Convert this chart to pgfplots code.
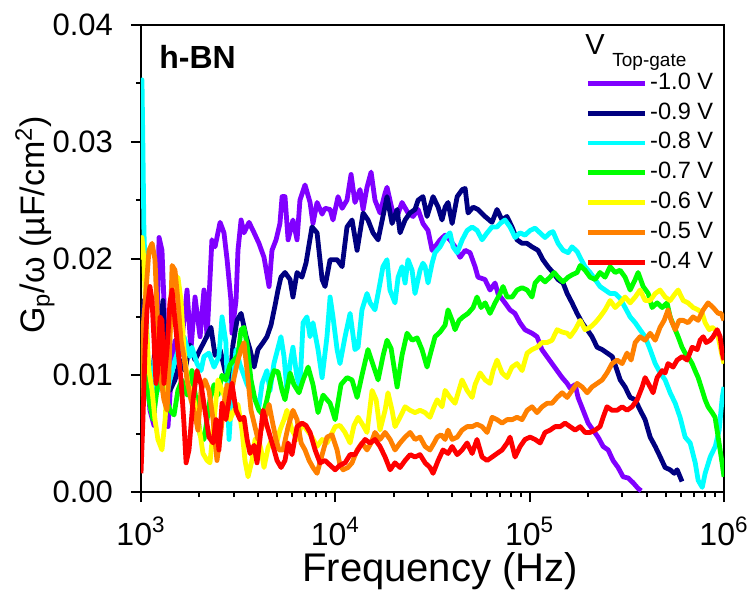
\documentclass[border=0pt]{standalone}
\usepackage{fontspec}
\setmainfont{Liberation Sans}
\usepackage{pgfplots}
\pgfplotsset{compat=1.18}
\definecolor{cPurple}{HTML}{8000FF}
\definecolor{cNavy}{HTML}{000080}
\definecolor{cCyan}{HTML}{00FFFF}
\definecolor{cGreen}{HTML}{00FF00}
\definecolor{cYellow}{HTML}{FFFF00}
\definecolor{cOrange}{HTML}{FF8000}
\definecolor{cRed}{HTML}{FF0000}
\begin{document}
\begin{tikzpicture}
\begin{axis}[
  at={(0,0)}, anchor=south west,
  scale only axis, width=291.5pt, height=233.5pt,
  xmin=3, xmax=6, ymin=0, ymax=40,
  xtick={3,4,5,6},
  xticklabels={10\textsuperscript{3},10\textsuperscript{4},10\textsuperscript{5},10\textsuperscript{6}},
  minor xtick={3.301,3.477,3.602,3.699,3.778,3.845,3.903,3.954,4.301,4.477,4.602,4.699,4.778,4.845,4.903,4.954,5.301,5.477,5.602,5.699,5.778,5.845,5.903,5.954},
  ytick={0,10,20,30,40},
  yticklabels={0.00,0.01,0.02,0.03,0.04},
  minor ytick={5,15,25,35},
  tick pos=left, tick align=outside,
  major tick length=5pt, minor tick length=2.5pt,
  every tick/.style={black, line width=1pt},
  axis line style={line width=1pt},
  xticklabel style={font=\fontsize{16}{18}\selectfont, yshift=-4pt},
  yticklabel style={font=\fontsize{15.5}{17}\selectfont, xshift=-5.5pt},
  xlabel={Frequency (Hz)},
  ylabel={G\textsubscript{p}/ω (µF/cm\textsuperscript{2})},
  xlabel style={font=\fontsize{20}{22}\selectfont, at={(axis description cs:0.513,-0.1906)}, anchor=base},
  ylabel style={font=\fontsize{17}{20}\selectfont, at={(axis description cs:-0.182,0.572)}, anchor=center, rotate=0},
  legend style={at={(rel axis cs:0.7616,0.8994)}, anchor=north west, draw=none, fill=none,
    inner sep=0pt, row sep=3.9pt, column sep=1pt,
    font=\fontsize{11.8}{13}\selectfont,
    nodes={inner ysep=0pt, inner xsep=0.5pt, text height=8.5pt, text depth=2.5pt}},
  legend cell align=left,
  legend image code/.code={\draw[#1, line width=2.4pt] (0pt,0pt) -- (28.5pt,0pt);},
  every axis plot/.append style={line width=2.4pt, line join=round},
  clip mode=individual,
]
\addplot[cPurple] coordinates {(3.000,8.7)(3.026,11.3)(3.046,7.0)(3.067,5.7)(3.082,13.9)(3.093,21.8)(3.108,20.7)(3.118,16.4)(3.129,7.9)(3.139,5.6)(3.154,9.6)(3.175,13.0)(3.201,11.7)(3.221,14.7)(3.237,17.3)(3.257,12.2)(3.278,16.7)(3.304,13.3)(3.324,17.3)(3.340,13.3)(3.365,21.6)(3.381,21.0)(3.407,23.1)(3.427,22.2)(3.443,19.9)(3.463,16.4)(3.468,13.6)(3.489,16.4)(3.499,20.7)(3.515,23.3)(3.530,22.2)(3.556,23.1)(3.582,22.2)(3.607,21.3)(3.633,20.1)(3.659,17.6)(3.674,20.7)(3.695,21.6)(3.715,23.0)(3.726,25.3)(3.741,25.3)(3.757,21.6)(3.782,23.3)(3.803,21.6)(3.818,25.0)(3.844,26.3)(3.870,24.8)(3.885,23.0)(3.906,24.8)(3.932,23.8)(3.947,24.3)(3.973,24.2)(3.988,23.3)(4.014,25.3)(4.035,24.3)(4.060,25.0)(4.081,27.2)(4.101,24.8)(4.127,25.9)(4.143,24.2)(4.163,26.1)(4.184,27.4)(4.204,25.0)(4.230,23.9)(4.256,25.6)(4.266,26.1)(4.292,24.2)(4.318,23.6)(4.343,24.8)(4.374,23.9)(4.400,23.6)(4.426,24.2)(4.451,23.0)(4.477,22.4)(4.498,20.7)(4.513,21.0)(4.539,21.6)(4.565,22.0)(4.590,21.6)(4.616,21.0)(4.642,20.1)(4.668,20.7)(4.693,20.5)(4.719,19.3)(4.734,18.4)(4.770,18.2)(4.796,17.3)(4.822,17.9)(4.837,17.0)(4.873,16.2)(4.899,15.6)(4.924,15.3)(4.950,14.5)(4.976,13.9)(5.012,13.6)(5.038,13.3)(5.063,12.2)(5.089,11.6)(5.115,11.0)(5.141,10.4)(5.167,9.8)(5.193,9.3)(5.208,8.9)(5.234,9.2)(5.249,8.1)(5.275,7.0)(5.301,5.9)(5.326,5.3)(5.352,4.7)(5.378,3.9)(5.404,3.6)(5.429,2.7)(5.455,2.1)(5.481,1.3)(5.507,1.2)(5.532,0.8)(5.558,0.3)(5.574,0.1)};
\addlegendentry{-1.0 V}
\addplot[cNavy] coordinates {(3.000,13.0)(3.015,16.4)(3.031,9.6)(3.046,7.9)(3.072,12.2)(3.098,13.9)(3.113,16.4)(3.129,11.3)(3.149,8.7)(3.175,9.6)(3.201,11.3)(3.226,10.4)(3.252,12.6)(3.278,11.3)(3.304,12.2)(3.329,13.0)(3.360,14.1)(3.381,11.7)(3.407,12.2)(3.432,10.4)(3.458,9.3)(3.473,12.6)(3.494,14.7)(3.515,15.3)(3.540,13.4)(3.561,12.2)(3.582,10.7)(3.602,12.2)(3.628,12.8)(3.648,13.3)(3.669,14.3)(3.690,16.0)(3.705,17.3)(3.720,18.4)(3.741,18.8)(3.767,18.2)(3.782,16.7)(3.803,18.8)(3.828,18.4)(3.849,19.6)(3.880,22.7)(3.906,22.2)(3.932,18.2)(3.947,17.6)(3.973,19.9)(4.009,19.9)(4.035,19.3)(4.060,22.7)(4.086,23.3)(4.112,20.7)(4.143,23.9)(4.168,23.3)(4.194,22.2)(4.220,21.6)(4.245,23.6)(4.266,25.3)(4.292,23.0)(4.318,24.2)(4.333,22.2)(4.359,23.3)(4.384,23.9)(4.410,24.2)(4.426,25.0)(4.451,25.3)(4.472,23.6)(4.503,25.3)(4.529,24.4)(4.549,23.3)(4.565,24.4)(4.580,24.8)(4.601,23.0)(4.627,25.3)(4.653,25.9)(4.668,26.0)(4.683,23.9)(4.709,24.4)(4.734,24.2)(4.770,23.6)(4.806,23.1)(4.832,24.2)(4.858,23.3)(4.883,23.6)(4.909,22.7)(4.935,21.6)(4.961,21.3)(4.986,21.3)(5.012,21.0)(5.043,20.7)(5.068,19.9)(5.094,19.3)(5.120,18.8)(5.146,18.2)(5.172,17.9)(5.193,17.0)(5.218,16.2)(5.244,15.3)(5.270,14.5)(5.296,13.9)(5.321,13.3)(5.347,12.4)(5.373,12.2)(5.399,11.9)(5.425,11.6)(5.450,10.4)(5.466,9.6)(5.491,9.0)(5.517,8.1)(5.543,7.9)(5.569,7.0)(5.594,6.2)(5.620,4.7)(5.646,3.9)(5.672,3.0)(5.697,2.1)(5.723,1.9)(5.744,1.6)(5.759,1.9)(5.784,0.9)};
\addlegendentry{-0.9 V}
\addplot[cCyan] coordinates {(3.000,34.4)(3.005,35.3)(3.010,29.3)(3.015,22.4)(3.026,16.4)(3.036,9.6)(3.051,7.0)(3.067,11.3)(3.087,8.7)(3.108,10.4)(3.129,7.9)(3.149,9.6)(3.175,11.3)(3.201,12.6)(3.221,13.3)(3.252,11.6)(3.262,12.4)(3.288,11.0)(3.309,10.4)(3.324,11.6)(3.350,11.9)(3.376,10.7)(3.401,11.6)(3.417,15.0)(3.437,12.8)(3.453,4.5)(3.468,8.7)(3.489,12.2)(3.510,10.9)(3.546,9.2)(3.576,8.3)(3.607,7.3)(3.623,9.3)(3.648,10.4)(3.664,8.7)(3.684,11.0)(3.720,13.3)(3.736,11.6)(3.751,8.7)(3.767,11.0)(3.782,12.4)(3.803,9.8)(3.818,9.0)(3.834,14.5)(3.854,15.0)(3.870,13.3)(3.885,14.5)(3.911,12.2)(3.932,9.8)(3.957,13.3)(3.973,16.7)(3.988,15.0)(4.009,12.2)(4.024,11.0)(4.050,13.3)(4.076,15.3)(4.101,12.2)(4.117,12.4)(4.137,15.6)(4.163,17.0)(4.179,16.2)(4.204,15.6)(4.230,17.9)(4.245,19.3)(4.266,19.9)(4.281,17.3)(4.307,16.2)(4.323,18.4)(4.343,19.3)(4.359,17.9)(4.374,19.9)(4.395,19.0)(4.410,17.0)(4.436,19.0)(4.451,19.6)(4.462,19.3)(4.477,17.9)(4.498,19.6)(4.513,20.5)(4.539,21.0)(4.565,21.8)(4.590,22.2)(4.606,21.0)(4.627,20.5)(4.653,21.6)(4.678,22.4)(4.704,22.7)(4.730,22.4)(4.755,21.6)(4.781,22.2)(4.806,22.7)(4.832,22.7)(4.848,23.0)(4.873,23.3)(4.899,22.7)(4.925,21.8)(4.950,22.2)(4.976,22.0)(5.002,22.4)(5.028,22.6)(5.053,22.2)(5.079,21.8)(5.105,22.2)(5.120,22.3)(5.146,21.3)(5.172,20.7)(5.198,20.5)(5.218,21.0)(5.244,20.6)(5.259,20.1)(5.285,19.3)(5.311,18.8)(5.337,18.2)(5.362,17.6)(5.388,17.3)(5.414,17.0)(5.440,17.0)(5.465,16.6)(5.491,15.8)(5.517,15.0)(5.543,14.5)(5.568,13.9)(5.594,13.3)(5.620,12.2)(5.646,11.0)(5.672,10.2)(5.697,9.6)(5.723,8.5)(5.749,7.6)(5.774,6.4)(5.800,4.7)(5.826,4.2)(5.852,2.5)(5.867,1.0)(5.888,0.4)(5.903,1.6)(5.929,3.0)(5.955,3.9)(5.975,5.3)(5.991,8.1)(6.000,9.0)};
\addlegendentry{-0.8 V}
\addplot[cGreen] coordinates {(3.000,6.2)(3.010,12.6)(3.026,11.3)(3.041,7.9)(3.062,6.2)(3.082,8.7)(3.103,10.4)(3.124,8.3)(3.149,7.0)(3.170,6.6)(3.190,8.7)(3.211,9.6)(3.237,8.3)(3.262,10.4)(3.283,7.9)(3.304,4.9)(3.324,4.5)(3.340,6.2)(3.355,7.9)(3.376,9.2)(3.396,8.3)(3.417,10.0)(3.437,9.6)(3.458,10.9)(3.479,11.3)(3.499,11.7)(3.515,13.9)(3.530,14.1)(3.546,12.6)(3.566,9.6)(3.587,7.9)(3.607,7.0)(3.628,6.6)(3.648,7.9)(3.669,9.6)(3.685,10.4)(3.705,10.3)(3.726,8.7)(3.741,7.9)(3.767,10.2)(3.787,9.2)(3.813,8.5)(3.834,9.6)(3.860,10.7)(3.885,9.2)(3.911,6.8)(3.937,8.3)(3.973,7.6)(3.999,6.2)(4.029,9.2)(4.060,9.8)(4.086,9.6)(4.112,8.1)(4.137,10.0)(4.168,12.2)(4.194,10.9)(4.220,9.6)(4.246,11.7)(4.266,13.0)(4.287,12.3)(4.318,9.0)(4.343,11.7)(4.369,13.6)(4.395,13.0)(4.421,13.2)(4.446,12.2)(4.472,10.7)(4.487,11.7)(4.513,13.3)(4.539,13.7)(4.565,14.3)(4.580,15.6)(4.601,14.7)(4.616,13.9)(4.637,14.7)(4.657,15.0)(4.683,15.3)(4.709,15.8)(4.729,16.7)(4.750,15.8)(4.771,16.2)(4.796,15.3)(4.822,16.2)(4.848,17.0)(4.863,17.6)(4.884,16.7)(4.910,16.7)(4.935,17.3)(4.961,17.5)(4.987,17.3)(5.012,16.7)(5.028,17.9)(5.054,18.4)(5.079,18.0)(5.105,18.4)(5.126,18.8)(5.146,18.4)(5.172,18.0)(5.198,18.4)(5.218,18.6)(5.244,18.8)(5.260,19.4)(5.285,19.0)(5.311,18.4)(5.337,18.2)(5.362,18.8)(5.388,18.4)(5.414,19.3)(5.440,18.8)(5.465,19.0)(5.491,18.4)(5.517,17.3)(5.543,18.2)(5.558,18.8)(5.584,17.6)(5.610,17.0)(5.630,15.8)(5.656,16.2)(5.682,15.8)(5.707,16.2)(5.723,15.0)(5.749,13.9)(5.764,13.3)(5.784,12.4)(5.800,11.9)(5.815,11.6)(5.836,11.0)(5.851,10.4)(5.867,9.8)(5.888,8.7)(5.903,7.9)(5.918,7.3)(5.939,6.8)(5.954,6.4)(5.970,4.7)(5.990,2.5)(6.000,1.3)};
\addlegendentry{-0.7 V}
\addplot[cYellow] coordinates {(3.000,19.9)(3.005,21.8)(3.015,19.9)(3.026,14.7)(3.041,10.4)(3.057,8.7)(3.072,6.2)(3.087,4.5)(3.108,3.6)(3.124,6.2)(3.139,10.4)(3.154,14.7)(3.170,17.6)(3.190,18.4)(3.206,16.4)(3.221,12.2)(3.242,9.2)(3.268,8.3)(3.293,6.2)(3.319,3.3)(3.340,2.7)(3.355,2.5)(3.376,6.2)(3.396,9.6)(3.417,8.7)(3.437,7.9)(3.458,6.2)(3.479,7.0)(3.499,7.5)(3.520,5.3)(3.535,2.7)(3.551,1.3)(3.571,2.7)(3.587,4.5)(3.602,4.7)(3.618,3.6)(3.633,2.1)(3.654,3.8)(3.674,4.5)(3.695,4.0)(3.715,5.3)(3.736,6.2)(3.751,7.0)(3.777,5.3)(3.803,4.5)(3.829,5.9)(3.854,5.3)(3.880,4.7)(3.906,3.9)(3.932,4.5)(3.957,4.2)(3.978,4.9)(3.999,5.6)(4.024,5.7)(4.050,5.1)(4.076,4.2)(4.096,5.7)(4.117,6.4)(4.143,5.7)(4.163,5.1)(4.189,8.7)(4.210,7.9)(4.230,5.3)(4.256,7.0)(4.271,8.5)(4.292,7.0)(4.307,5.6)(4.333,6.4)(4.359,7.3)(4.385,7.0)(4.410,6.8)(4.436,7.0)(4.462,6.8)(4.487,6.4)(4.508,7.3)(4.524,7.9)(4.549,7.3)(4.565,8.7)(4.590,8.1)(4.616,7.6)(4.632,8.5)(4.652,9.6)(4.678,8.7)(4.704,8.1)(4.719,9.2)(4.745,10.2)(4.771,9.6)(4.796,9.3)(4.812,10.4)(4.832,11.3)(4.858,10.2)(4.884,9.8)(4.909,10.7)(4.935,11.0)(4.961,10.4)(4.987,11.9)(5.012,12.2)(5.038,12.4)(5.064,12.8)(5.090,12.8)(5.115,13.0)(5.141,13.9)(5.167,13.7)(5.193,13.6)(5.208,13.3)(5.234,13.9)(5.260,14.7)(5.285,13.9)(5.311,14.1)(5.337,14.5)(5.362,15.0)(5.388,15.6)(5.414,16.4)(5.440,15.8)(5.465,16.2)(5.491,16.7)(5.517,16.2)(5.543,16.7)(5.568,17.3)(5.594,16.4)(5.620,16.4)(5.646,17.0)(5.671,17.3)(5.697,16.7)(5.723,16.4)(5.749,17.0)(5.764,17.3)(5.790,16.4)(5.815,16.2)(5.841,15.8)(5.867,15.6)(5.888,15.3)(5.903,14.5)(5.924,13.9)(5.939,14.1)(5.955,13.9)(5.970,13.3)(5.991,11.6)(6.000,11.0)};
\addlegendentry{-0.6 V}
\addplot[cOrange] coordinates {(3.000,7.9)(3.010,13.9)(3.026,17.3)(3.041,20.7)(3.057,21.3)(3.072,19.9)(3.087,13.9)(3.103,9.6)(3.118,7.9)(3.134,7.0)(3.144,10.4)(3.160,19.4)(3.175,19.0)(3.190,16.4)(3.206,13.0)(3.221,11.6)(3.237,9.6)(3.257,7.9)(3.278,6.6)(3.293,5.3)(3.309,8.7)(3.329,9.6)(3.350,8.7)(3.371,6.2)(3.391,2.7)(3.412,5.3)(3.427,7.6)(3.443,9.2)(3.463,8.3)(3.479,9.8)(3.499,11.3)(3.515,12.2)(3.530,12.8)(3.551,9.6)(3.566,7.0)(3.582,5.9)(3.602,4.5)(3.623,5.6)(3.643,6.6)(3.659,7.5)(3.674,6.2)(3.695,4.5)(3.710,3.6)(3.731,3.6)(3.757,5.6)(3.782,7.0)(3.803,6.2)(3.824,4.2)(3.844,3.6)(3.865,2.7)(3.885,2.1)(3.906,1.6)(3.932,3.2)(3.957,4.7)(3.983,4.9)(4.009,3.6)(4.024,2.3)(4.040,1.9)(4.065,2.1)(4.086,2.5)(4.112,3.6)(4.137,4.2)(4.163,3.6)(4.184,4.2)(4.204,5.1)(4.230,4.5)(4.256,5.1)(4.282,4.5)(4.307,3.6)(4.333,4.2)(4.359,4.7)(4.385,5.1)(4.410,4.5)(4.436,4.7)(4.462,3.9)(4.487,3.6)(4.508,4.2)(4.524,4.7)(4.544,4.9)(4.565,4.5)(4.580,5.3)(4.601,4.5)(4.627,4.7)(4.652,5.3)(4.678,5.6)(4.704,5.6)(4.729,5.8)(4.755,5.6)(4.781,5.1)(4.807,6.4)(4.832,6.2)(4.858,5.9)(4.884,6.2)(4.910,6.2)(4.935,6.4)(4.961,6.2)(4.987,7.0)(5.012,7.3)(5.038,6.8)(5.064,7.3)(5.090,7.6)(5.115,7.6)(5.141,8.1)(5.167,8.5)(5.193,8.1)(5.218,8.7)(5.244,9.3)(5.270,9.0)(5.296,8.5)(5.321,9.0)(5.347,9.3)(5.373,9.6)(5.398,10.2)(5.424,11.0)(5.450,11.3)(5.476,11.0)(5.501,11.9)(5.522,11.3)(5.543,12.8)(5.568,13.3)(5.594,13.0)(5.620,13.6)(5.646,13.0)(5.671,14.1)(5.692,14.7)(5.712,15.6)(5.728,14.7)(5.749,13.9)(5.769,14.7)(5.790,14.7)(5.815,14.5)(5.841,15.0)(5.867,14.7)(5.893,15.6)(5.918,16.2)(5.944,15.8)(5.970,15.3)(5.985,15.3)(6.000,14.7)};
\addlegendentry{-0.5 V}
\addplot[cRed] coordinates {(3.000,1.6)(3.010,6.2)(3.021,12.2)(3.031,15.6)(3.046,17.6)(3.057,16.4)(3.067,13.0)(3.077,9.3)(3.087,10.4)(3.098,15.0)(3.108,14.7)(3.118,9.3)(3.134,12.2)(3.149,16.2)(3.160,17.3)(3.175,14.7)(3.190,12.2)(3.206,9.6)(3.221,5.9)(3.232,2.5)(3.247,3.6)(3.268,7.9)(3.288,10.4)(3.309,9.2)(3.329,7.0)(3.350,4.7)(3.371,4.2)(3.386,6.2)(3.401,3.6)(3.417,7.6)(3.437,6.2)(3.453,7.9)(3.468,9.3)(3.489,7.0)(3.510,6.2)(3.530,6.4)(3.546,4.5)(3.561,3.3)(3.582,4.0)(3.597,2.5)(3.612,4.5)(3.628,7.0)(3.648,5.7)(3.669,4.5)(3.685,3.6)(3.700,2.7)(3.721,2.1)(3.741,2.7)(3.757,4.2)(3.777,3.2)(3.803,5.6)(3.829,5.9)(3.849,5.7)(3.870,5.1)(3.896,3.6)(3.921,2.5)(3.947,2.7)(3.973,2.3)(3.999,1.9)(4.024,2.3)(4.050,2.5)(4.076,3.2)(4.101,3.2)(4.127,3.9)(4.153,4.5)(4.179,4.2)(4.204,4.5)(4.230,3.9)(4.256,3.0)(4.282,1.9)(4.307,2.5)(4.333,2.1)(4.359,2.7)(4.385,3.2)(4.410,3.0)(4.436,3.2)(4.462,2.5)(4.487,2.1)(4.503,1.6)(4.529,2.7)(4.554,3.6)(4.580,3.3)(4.601,3.9)(4.627,3.2)(4.652,3.6)(4.678,4.2)(4.704,3.3)(4.729,4.5)(4.755,3.0)(4.781,2.7)(4.807,3.0)(4.832,3.3)(4.858,3.6)(4.884,4.2)(4.899,4.7)(4.925,3.0)(4.951,3.9)(4.976,4.5)(5.002,4.7)(5.028,4.5)(5.054,4.2)(5.079,5.1)(5.105,5.3)(5.131,5.6)(5.157,5.6)(5.182,5.9)(5.208,5.6)(5.234,5.3)(5.260,5.6)(5.285,5.1)(5.311,5.1)(5.337,5.3)(5.362,5.6)(5.378,6.4)(5.398,7.3)(5.424,7.0)(5.450,7.0)(5.476,7.3)(5.501,7.0)(5.527,7.3)(5.553,7.9)(5.579,9.0)(5.594,9.8)(5.620,9.0)(5.635,8.5)(5.656,9.8)(5.682,10.4)(5.697,10.2)(5.712,11.0)(5.738,10.7)(5.759,11.3)(5.785,11.6)(5.810,11.3)(5.836,12.4)(5.862,12.2)(5.877,13.0)(5.893,13.3)(5.908,12.8)(5.929,13.0)(5.944,13.3)(5.965,13.9)(5.980,13.3)(5.991,11.9)(6.000,11.3)};
\addlegendentry{-0.4 V}
\node[anchor=base west, inner sep=0pt, font=\fontsize{14.5}{16}\selectfont] at (rel axis cs:0.7616,0.9358) {V};
\node[anchor=base west, inner sep=0pt, font=\fontsize{9.5}{11}\selectfont] at (rel axis cs:0.8079,0.9101) {Top-gate};
\node[anchor=base west, inner sep=0pt, font=\fontsize{16}{18}\bfseries\selectfont] at (rel axis cs:0.0309,0.9079) {h-BN};
\end{axis}
\pgfresetboundingbox
\path[use as bounding box] (-70.5pt,-51pt) rectangle (304pt,246pt);
\end{tikzpicture}
\end{document}
